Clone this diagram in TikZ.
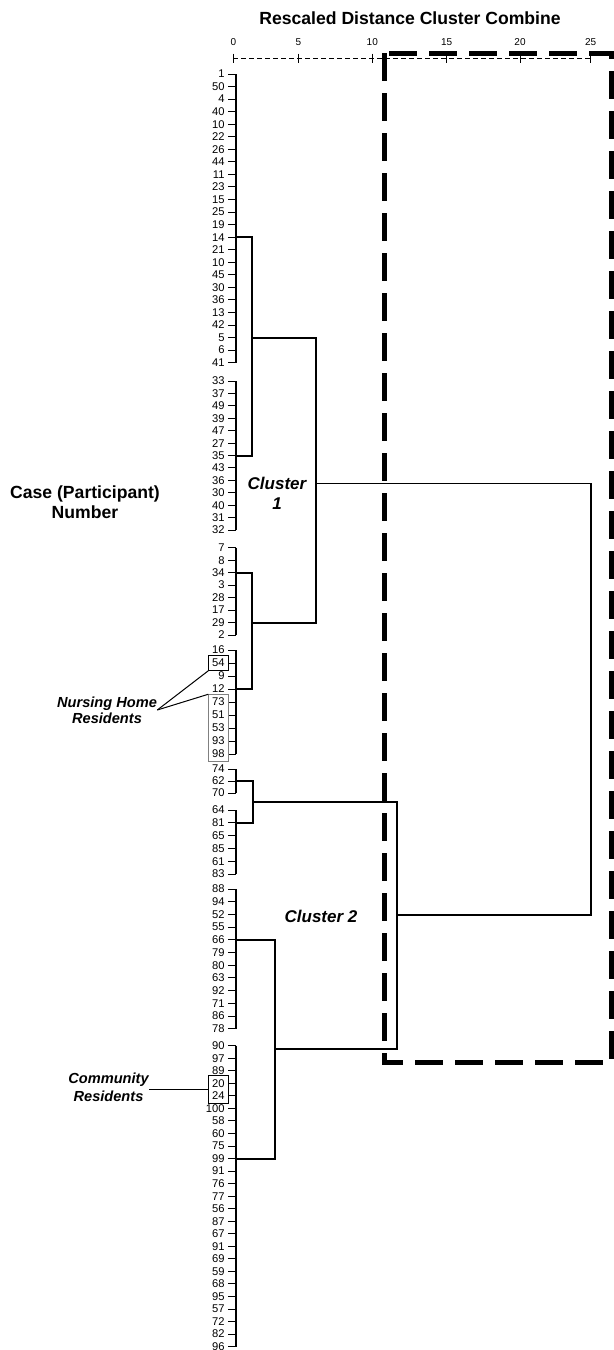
\documentclass[tikz,border=0pt]{standalone}
\usepackage{fontspec}
\setmainfont{Liberation Sans}
\usetikzlibrary{fit}

% one column of leaves: prefix, first y, step, labels
\newcommand{\leafcol}[4]{%
  \foreach \lab [count=\k] in {#4} {
    \coordinate (#1-\k) at (236,{#2+(\k-1)*#3});
    \node[leaf] (#1l-\k) at (225,{#2+(\k-1)*#3}) {\lab};
    \draw[tick] (#1-\k) -- ++(-8.5,0);
  }%
}

\begin{document}
\begin{tikzpicture}[
    x=0.5pt, y=-0.5pt,
    leaf/.style={anchor=east, inner sep=0pt, font=\fontsize{5.6}{6}\selectfont},
    tick/.style={line width=0.5pt},
    stem/.style={line width=1pt},
    bracket/.style={line width=1pt},
    link/.style={line width=0.6pt},
    axlab/.style={inner sep=0pt, font=\fontsize{5}{6}\selectfont},
    axtick/.style={line width=0.5pt},
    axline/.style={line width=0.4pt, dash pattern=on 2.5pt off 1.5pt},
    dashbox/.style={line width=2.5pt, dash pattern=on 14pt off 6pt},
    hlbox/.style={draw, inner sep=1.5pt, line width=0.5pt},
    callout/.style={line width=0.5pt},
    note/.style={inner sep=0pt, align=center, font=\fontsize{7.3}{8.2}\selectfont\bfseries\itshape},
    clab/.style={inner sep=0pt, align=center, font=\fontsize{8.5}{10}\selectfont\bfseries\itshape},
    caption/.style={inner sep=0pt, align=center, font=\fontsize{8.8}{10.2}\selectfont\bfseries}
]
\useasboundingbox (0,0) rectangle (614,1350);

% Title and axis
\node[caption] (ttl) at (410,18.5) {Rescaled Distance Cluster Combine};
\draw[axline] (233.3,58.3) -- (593,58.3);
\foreach \v/\x in {0/233.3,5/298.3,10/372.3,15/446.7,20/520,25/590.7} {
  \node[axlab] (ax\v) at (\x,41.7) {\v};
  \draw[axtick] (\x,53.5) -- (\x,63);
}

% Side label
\node[caption] (case) at (85,502) {Case (Participant)\\Number};

% Leaves
\leafcol{g1}{74}{12.55}{1,50,4,40,10,22,26,44,11,23,15,25,19,14,21,10,45,30,36,13,42,5,6,41}
\leafcol{g2}{381}{12.42}{33,37,49,39,47,27,35,43,36,30,40,31,32}
\leafcol{g3}{547.7}{12.47}{7,8,34,3,28,17,29,2}
\leafcol{g4}{650}{13}{16,54,9,12,73,51,53,93,98}
\leafcol{g5}{769}{12}{74,62,70}
\leafcol{g6}{810}{12.8}{64,81,65,85,61,83}
\leafcol{g7}{889}{12.7}{88,94,52,55,66,79,80,63,92,71,86,78}
\leafcol{g8}{1045.7}{12.54}{90,97,89,20,24,100,58,60,75,99,91,76,77,56,87,67,91,69,59,68,95,57,72,82,96}

\draw[stem] (g1-1) -- (g1-24);
\draw[stem] (g2-1) -- (g2-13);
\draw[stem] (g3-1) -- (g3-8);
\draw[stem] (g4-1) -- (g4-9);
\draw[stem] (g5-1) -- (g5-3);
\draw[stem] (g6-1) -- (g6-6);
\draw[stem] (g7-1) -- (g7-12);
\draw[stem] (g8-1) -- (g8-25);

% Join points
\path (g1-22) ++(15.5,0) coordinate (c12);
\path (g3-7) ++(16.3,0) coordinate (c34);
\coordinate (c56) at (253,801.7);
\coordinate (c78) at (275,1049.3);
\coordinate (c1234) at (316,483.3);
\coordinate (c5678) at (396.7,915);
\coordinate (root) at (591,915);

% Connections
\draw[bracket] (g1-14) -| (c12) |- (g2-7);
\draw[bracket] (g3-3) -| (c34) |- (g4-4);
\draw[bracket] (g5-2) -| (c56) |- (g6-2);
\draw[bracket] (g7-5) -| (c78) |- (g8-10);
\draw[bracket] (c12) -| (c1234) |- (c34);
\draw[bracket, line width=0.9pt] (c56) -| (c5678) |- (c78);
\draw[link] (c1234) -| (root) -- (c5678);

% Cluster labels
\node[clab] (cl1) at (277,493) {Cluster\\1};
\node[clab] (cl2) at (321,916) {Cluster 2};

% Highlighted cases
\node[hlbox, fit=(g4l-2)] (nhbox1) {};
\node[hlbox, draw=gray, line width=0.4pt, fit=(g4l-5)(g4l-9)] (nhbox2) {};
\node[hlbox, fit=(g8l-4)(g8l-5)] (crbox) {};

\node[note] (nh) at (107,710) {Nursing Home\\Residents};
\draw[callout] (nh.east) -- (nhbox1.south west);
\draw[callout] (nh.east) -- (nhbox2.north west);

\node[note, font=\fontsize{7.3}{9.2}\selectfont\bfseries\itshape] (cr) at (108.5,1087.5) {Community\\Residents};
\draw[callout] (cr.east |- crbox.west) -- (crbox.west);

% Dashed frame
\draw[dashbox] (384,53.3) rectangle (611.5,1062.3);

\end{tikzpicture}
\end{document}
